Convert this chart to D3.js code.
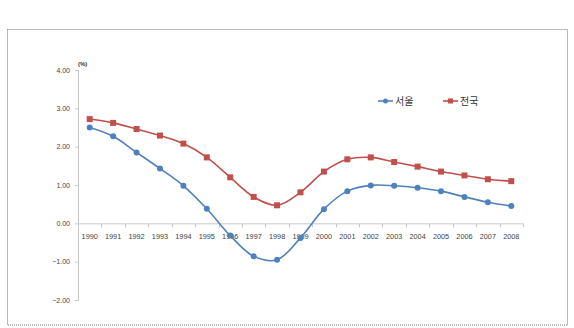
<!DOCTYPE html>
<html>
<head>
<meta charset="utf-8">
<script src="https://cdn.jsdelivr.net/npm/d3@7"></script>
<style>
  body { margin: 0; background: #fff; }
  svg { display: block; font-family: "Liberation Sans", Arial, "Noto Sans CJK KR", sans-serif; }
</style>
</head>
<body>
<svg id="chart" width="574" height="328"></svg>
<script>
// years on the category axis
var years = ["1990","1991","1992","1993","1994","1995","1996","1997","1998","1999",
             "2000","2001","2002","2003","2004","2005","2006","2007","2008"];
// 서울 (Seoul) growth rate, %
var seoul = [2.50, 2.27, 1.85, 1.43, 0.98, 0.38, -0.32, -0.86, -0.95, -0.38,
             0.37, 0.84, 0.99, 0.98, 0.93, 0.84, 0.69, 0.55, 0.45];
// 전국 (nationwide) growth rate, %
var national = [2.72, 2.62, 2.46, 2.29, 2.08, 1.72, 1.20, 0.69, 0.47, 0.81,
                1.35, 1.67, 1.72, 1.60, 1.48, 1.35, 1.25, 1.15, 1.10];
var yTicks = [4, 3, 2, 1, 0, -1, -2];
var seriesNames = ["서울", "전국"];

var svg = d3.select("#chart");

// dotted frame round the chart area
svg.append("rect")
  .attr("x", 7.5).attr("y", 29.5)
  .attr("width", 560).attr("height", 295.5)
  .attr("fill", "none")
  .attr("stroke", "#777")
  .attr("stroke-width", 1)
  .attr("stroke-dasharray", "1,1");

var left = 78, right = 523;
var x = d3.scaleBand().domain(years).range([left, right]);
var y = d3.scaleLinear().domain([-2, 4]).range([300, 70]);

// value axis
var yAxis = svg.append("g")
  .attr("transform", "translate(" + left + ",0)")
  .call(d3.axisLeft(y).tickValues(yTicks).tickSize(3).tickFormat(d3.format(".2f")));
yAxis.select(".domain").attr("stroke", "#c8c8c8");
yAxis.selectAll(".tick line").attr("stroke", "#c8c8c8");
yAxis.selectAll(".tick text")
  .attr("x", -8)
  .attr("fill", "#444")
  .style("font-size", "7px");

svg.append("text")
  .attr("x", 78).attr("y", 66)
  .attr("fill", "#333")
  .style("font-size", "6px")
  .style("font-weight", "bold")
  .text("(%)");

// category axis sitting on zero, ticks between categories
var zeroY = y(0);
svg.append("line")
  .attr("x1", left).attr("x2", right)
  .attr("y1", zeroY + 0.5).attr("y2", zeroY + 0.5)
  .attr("stroke", "#c8c8c8");
var bounds = years.map(function(d){ return x(d); }).concat([right]);
svg.selectAll(".xtick")
  .data(bounds)
  .enter().append("line")
  .attr("class", "xtick")
  .attr("x1", function(d){ return Math.round(d) + 0.5; })
  .attr("x2", function(d){ return Math.round(d) + 0.5; })
  .attr("y1", zeroY).attr("y2", zeroY + 4)
  .attr("stroke", "#c8c8c8");
svg.selectAll(".xlabel")
  .data(years)
  .enter().append("text")
  .attr("class", "xlabel")
  .attr("x", function(d){ return x(d) + x.bandwidth() / 2; })
  .attr("y", zeroY + 16)
  .attr("text-anchor", "middle")
  .attr("fill", "#444")
  .style("font-size", "7.3px")
  .text(function(d){ return d; });

var line = d3.line()
  .x(function(d, i){ return x(years[i]) + x.bandwidth() / 2; })
  .y(function(d){ return y(d); })
  .curve(d3.curveCatmullRom.alpha(0.5));

var blue = "#4f81bd", red = "#c0504d";

function drawSeries(values, color, marker){
  svg.append("path")
    .datum(values)
    .attr("d", line)
    .attr("fill", "none")
    .attr("stroke", color)
    .attr("stroke-width", 1.6);
  var g = svg.append("g");
  values.forEach(function(v, i){
    var cx = x(years[i]) + x.bandwidth() / 2, cy = y(v);
    if (marker == "circle") {
      g.append("circle").attr("cx", cx).attr("cy", cy).attr("r", 3).attr("fill", color);
    } else {
      g.append("rect").attr("x", cx - 3).attr("y", cy - 3)
        .attr("width", 6).attr("height", 6).attr("fill", color);
    }
  });
}

drawSeries(national, red, "square");
drawSeries(seoul, blue, "circle");

// legend
var legend = [
  {name: seriesNames[0], color: blue, marker: "circle", x: 378},
  {name: seriesNames[1], color: red, marker: "square", x: 443}
];
legend.forEach(function(l){
  var ly = 101;
  svg.append("line")
    .attr("x1", l.x).attr("x2", l.x + 15)
    .attr("y1", ly).attr("y2", ly)
    .attr("stroke", l.color).attr("stroke-width", 1.6);
  if (l.marker == "circle") {
    svg.append("circle").attr("cx", l.x + 7.5).attr("cy", ly).attr("r", 2.5).attr("fill", l.color);
  } else {
    svg.append("rect").attr("x", l.x + 5).attr("y", ly - 2.5)
      .attr("width", 5).attr("height", 5).attr("fill", l.color);
  }
  svg.append("text")
    .attr("x", l.x + 17).attr("y", ly + 3.5)
    .attr("fill", "#333")
    .style("font-size", "10px")
    .style("font-family", "'Noto Sans CJK KR', sans-serif")
    .text(l.name);
});
</script>
</body>
</html>
